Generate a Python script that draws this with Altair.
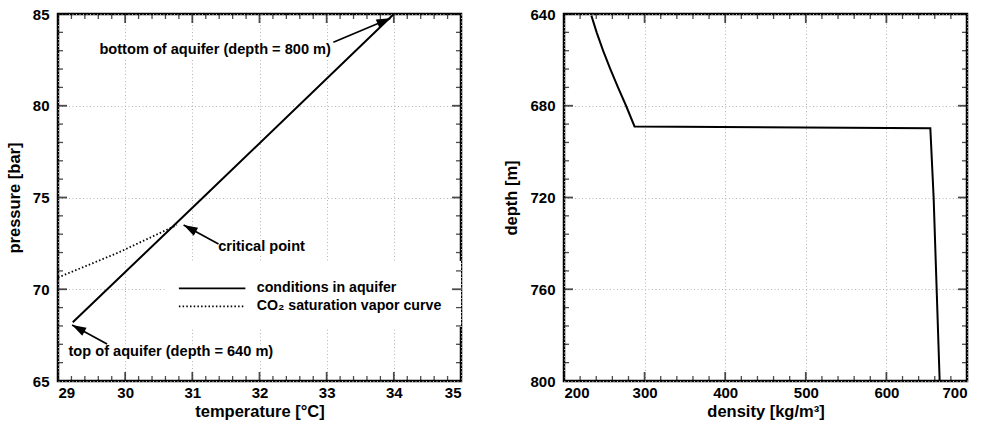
import math
import altair as alt
import pandas as pd
import numpy as np

# ---------------- data: left panel ----------------
aq_temp = [29.22, 31.16, 34.0]
aq_pres = [68.2, 75.0, 85.0]
sat_temp = [29.0, 29.9, 30.77]
sat_pres = [70.64, 72.0, 73.5]

ann_text = ["bottom of aquifer (depth = 800 m)", "critical point", "top of aquifer (depth = 640 m)"]
ann_x = [31.34, 32.03, 30.68]
ann_y = [83.06, 72.29, 66.56]
arr_x0 = [33.10, 31.39, 29.73]
arr_y0 = [83.46, 72.47, 67.02]
arr_x1 = [33.95, 30.87, 29.21]
arr_y1 = [84.77, 73.50, 68.05]

# white boxes behind texts / legend (data units)
box_x0 = [29.55, 31.38, 29.12, 30.59]
box_x1 = [33.12, 32.68, 32.25, 35.0]
box_y0 = [82.60, 71.84, 66.10, 67.94]
box_y1 = [83.52, 72.74, 67.00, 71.54]

leg_labels = ["conditions in aquifer", "CO\u2082 saturation vapor curve"]
leg_x0, leg_x1, leg_tx = 30.80, 31.79, 31.96
leg_y = [70.05, 69.07]

temp_ticks = [29, 30, 31, 32, 33, 34, 35]
pres_ticks = [65, 70, 75, 80, 85]

# ---------------- data: right panel ----------------
dens = [234.0, 240.5, 248.5, 257.5, 267.0, 277.0, 287.5, 654.5, 658.6, 666.1]
depth = [640.7, 648.0, 656.0, 664.0, 672.0, 680.0, 689.0, 689.8, 720.0, 800.0]
dens_ticks = [200, 300, 400, 500, 600, 700]
depth_ticks = [640, 680, 720, 760, 800]

W, H = 403, 367
FONT = "Liberation Sans"
MAJ, MIN = 9, 5


def frame_ticks(xs, ys, ax, ay, xmaj, xmin, ymaj, ymin):
    layers = []
    for vals, ln, th in [(xmaj, MAJ, 1.8), (xmin, MIN, 1.3)]:
        d = pd.DataFrame({"v": vals})
        for yv in [0, H]:
            layers.append(alt.Chart(d).mark_tick(orient="vertical", clip=True, color="black",
                                                 thickness=th, size=2 * ln).encode(
                x=alt.X("v:Q", scale=xs, axis=ax), y=alt.value(yv)))
    for vals, ln, th in [(ymaj, MAJ, 1.8), (ymin, MIN, 1.3)]:
        d = pd.DataFrame({"v": vals})
        for xv in [0, W]:
            layers.append(alt.Chart(d).mark_tick(orient="horizontal", clip=True, color="black",
                                                 thickness=th, size=2 * ln).encode(
                y=alt.Y("v:Q", scale=ys, axis=ay), x=alt.value(xv)))
    return layers


# ---------------- left chart ----------------
xs_l = alt.Scale(domain=[29, 35], nice=False, zero=False)
ys_l = alt.Scale(domain=[65, 85], nice=False, zero=False)
sx = W / 6.0
sy = H / 20.0

ax_x_l = alt.Axis(values=temp_ticks, title="temperature [\u00b0C]", format="d", grid=True,
                  ticks=False, tickSize=0, domain=False, labelPadding=4, titlePadding=3)
ax_y_l = alt.Axis(values=pres_ticks, title="pressure [bar]", format="d", grid=True,
                  ticks=False, tickSize=0, domain=False, labelPadding=9, titlePadding=10)

df_aq = pd.DataFrame({"t": aq_temp, "p": aq_pres})
df_sat = pd.DataFrame({"t": sat_temp, "p": sat_pres})
df_box = pd.DataFrame({"x0": box_x0, "x1": box_x1, "y0": box_y0, "y1": box_y1})
angles = [math.degrees(math.atan2((x1 - x0) * sx, (y1 - y0) * sy))
          for x0, y0, x1, y1 in zip(arr_x0, arr_y0, arr_x1, arr_y1)]
df_arr = pd.DataFrame({"x0": arr_x0, "y0": arr_y0, "x1": arr_x1, "y1": arr_y1, "ang": angles})
df_ann = pd.DataFrame({"x": ann_x, "y": ann_y, "txt": ann_text})
df_leg = pd.DataFrame({"x0": [leg_x0] * 2, "x1": [leg_x1] * 2, "tx": [leg_tx] * 2,
                       "y": leg_y, "txt": leg_labels})

XL = lambda f: alt.X(f, scale=xs_l, axis=ax_x_l)
YL = lambda f: alt.Y(f, scale=ys_l, axis=ax_y_l)

boxes = alt.Chart(df_box).mark_rect(color="white").encode(
    x=XL("x0:Q"), x2="x1", y=YL("y0:Q"), y2="y1")
aq_line = alt.Chart(df_aq).mark_line(color="black", strokeWidth=2).encode(
    x=XL("t:Q"), y=YL("p:Q"))
sat_line = alt.Chart(df_sat).mark_line(color="black", strokeWidth=1.8, strokeDash=[1.5, 2.2]).encode(
    x=XL("t:Q"), y=YL("p:Q"))
arr_rules = alt.Chart(df_arr).mark_rule(color="black", strokeWidth=1.7).encode(
    x=XL("x0:Q"), x2="x1", y=YL("y0:Q"), y2="y1")
arr_heads = alt.Chart(df_arr).mark_point(shape="M0,0L0.65,2L-0.65,2Z", filled=True, color="black",
                                         opacity=1, size=196, strokeWidth=0).encode(
    x=XL("x1:Q"), y=YL("y1:Q"), angle=alt.Angle("ang:Q", scale=None))
ann = alt.Chart(df_ann).mark_text(font=FONT, fontSize=14.6, fontWeight="bold", color="black",
                                  baseline="middle", align="center").encode(
    x=XL("x:Q"), y=YL("y:Q"), text="txt:N")
leg_solid = alt.Chart(df_leg.iloc[[0]]).mark_rule(color="black", strokeWidth=1.8).encode(
    x=XL("x0:Q"), x2="x1", y=YL("y:Q"))
leg_dot = alt.Chart(df_leg.iloc[[1]]).mark_rule(color="black", strokeWidth=1.8,
                                                strokeDash=[1.5, 2.2]).encode(
    x=XL("x0:Q"), x2="x1", y=YL("y:Q"))
leg_text = alt.Chart(df_leg).mark_text(font=FONT, fontSize=14.2, fontWeight="bold", color="black",
                                       baseline="middle", align="left").encode(
    x=XL("tx:Q"), y=YL("y:Q"), text="txt:N")

t_min = [float(v) for v in np.round(np.arange(29, 35.001, 0.2), 2) if abs(v - round(v)) > 1e-6]
p_min = [v for v in range(65, 86) if v % 5 != 0]
left = alt.layer(boxes, aq_line, sat_line, arr_rules, arr_heads, ann, leg_solid, leg_dot, leg_text,
                 *frame_ticks(xs_l, ys_l, ax_x_l, ax_y_l, temp_ticks, t_min, pres_ticks, p_min)
                 ).properties(width=W, height=H)

# ---------------- right chart ----------------
xs_r = alt.Scale(domain=[200, 700], nice=False, zero=False)
ys_r = alt.Scale(domain=[640, 800], nice=False, zero=False, reverse=True)
ax_x_r = alt.Axis(values=dens_ticks, title="density [kg/m\u00b3]", format="d", grid=True,
                  ticks=False, tickSize=0, domain=False, labelPadding=4, titlePadding=3)
ax_y_r = alt.Axis(values=depth_ticks, title="depth [m]", format="d", grid=True,
                  ticks=False, tickSize=0, domain=False, labelPadding=9, titlePadding=10)
df_rho = pd.DataFrame({"rho": dens, "z": depth, "o": list(range(len(dens)))})
rho_line = alt.Chart(df_rho).mark_line(color="black", strokeWidth=2).encode(
    x=alt.X("rho:Q", scale=xs_r, axis=ax_x_r), y=alt.Y("z:Q", scale=ys_r, axis=ax_y_r), order="o:Q")
d_min = [v for v in range(200, 701, 20) if v % 100 != 0]
z_min = [v for v in range(640, 801, 8) if (v - 640) % 40 != 0]
right = alt.layer(rho_line, *frame_ticks(xs_r, ys_r, ax_x_r, ax_y_r, dens_ticks, d_min, depth_ticks, z_min)
                  ).properties(width=W, height=H)

chart = alt.hconcat(left, right, spacing=103, bounds="flush").properties(
    padding={"left": 5, "top": 5, "right": 5, "bottom": 0}, background="white"
).configure_view(stroke="black", strokeWidth=2.5, fill="white").configure_axis(
    labelFont=FONT, titleFont=FONT, labelFontSize=15, titleFontSize=16.5,
    labelFontWeight="bold", titleFontWeight="bold", labelColor="black", titleColor="black",
    gridColor="#b4b4b4", gridDash=[1, 2.5], gridWidth=1
)

chart.save("out.html", embed_options={"renderer": "svg", "actions": False})
